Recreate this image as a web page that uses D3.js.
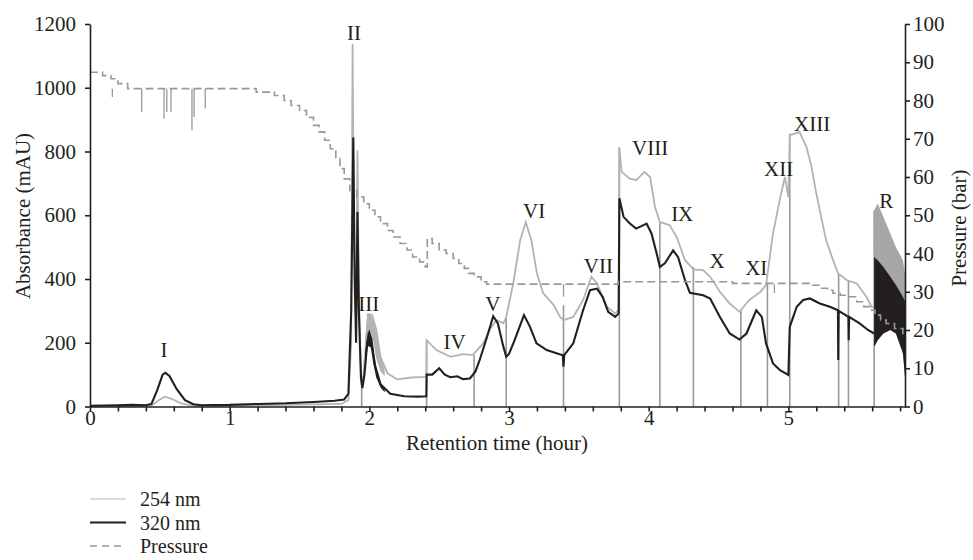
<!DOCTYPE html>
<meta charset="utf-8">
<html><head>
<title>Chromatogram</title>
<style>
body { margin: 0; background: #fff; }
text { font-family: "Liberation Serif", "DejaVu Serif", serif; fill: #231f20; }
</style>
</head><body>
<script src="https://cdnjs.cloudflare.com/ajax/libs/d3/7.8.5/d3.min.js"></script>
<script>

// [time (hour), absorbance (mAU)]
var abs254 = [[0,1],[0.3,2],[0.44,3],[0.5,22],[0.537,31],[0.58,25],[0.65,10],[0.74,3],[1.0,3],[1.4,5],[1.8,8],[1.85,20],
  [1.87,200],[1.88,1138],[1.89,500],[1.905,300],[1.915,804],[1.925,350],[1.94,100],[1.955,80],[1.975,200],[1.99,290],
  [2.02,287],[2.05,240],[2.08,156],[2.13,104],[2.2,85],[2.3,91],[2.408,93],[2.41,208],[2.48,177],[2.58,156],[2.67,164],
  [2.74,161],[2.815,198],[2.86,240],[2.91,271],[2.96,261],[2.98,281],[3.03,386],[3.08,522],[3.12,579],[3.16,522],
  [3.2,417],[3.245,355],[3.32,318],[3.365,281],[3.39,271],[3.46,281],[3.53,334],[3.59,407],[3.63,386],[3.70,313],
  [3.76,292],[3.785,302],[3.79,809],[3.806,736],[3.865,715],[3.91,710],[3.97,736],[4.01,720],[4.045,626],[4.08,579],
  [4.15,569],[4.2,532],[4.26,459],[4.32,430],[4.39,428],[4.44,407],[4.51,360],[4.58,323],[4.65,297],[4.72,334],
  [4.80,360],[4.84,381],[4.89,543],[4.94,652],[4.975,720],[5.0,657],[5.01,851],[5.08,861],[5.13,814],[5.166,751],
  [5.2,668],[5.24,584],[5.27,522],[5.32,459],[5.357,417],[5.42,396],[5.49,386],[5.56,344],[5.595,313],[5.614,313]];

var abs320 = [[0,2],[0.1,3],[0.2,4],[0.3,5],[0.4,4],[0.44,8],[0.48,50],[0.52,100],[0.54,106],[0.57,95],[0.62,55],
  [0.68,20],[0.74,7],[0.8,4],[1.0,5],[1.2,8],[1.4,10],[1.6,14],[1.75,18],[1.82,22],[1.85,40],[1.87,300],[1.885,844],
  [1.895,400],[1.905,200],[1.915,610],[1.925,300],[1.94,90],[1.95,58],[1.965,100],[1.985,200],[2.0,230],[2.015,210],
  [2.04,130],[2.08,70],[2.15,40],[2.25,32],[2.35,31],[2.408,32],[2.41,100],[2.45,100],[2.5,120],[2.54,100],[2.58,92],
  [2.63,95],[2.67,86],[2.72,88],[2.76,110],[2.79,146],[2.84,215],[2.887,283],[2.92,261],[2.96,187],[2.98,156],
  [3.0,165],[3.04,208],[3.107,287],[3.15,250],[3.197,198],[3.27,177],[3.34,167],[3.385,161],[3.39,125],[3.395,161],
  [3.46,198],[3.53,302],[3.58,365],[3.63,370],[3.67,344],[3.71,297],[3.76,281],[3.785,292],[3.79,653],[3.82,595],
  [3.865,574],[3.91,558],[3.985,574],[4.02,543],[4.057,480],[4.08,438],[4.116,449],[4.175,490],[4.21,469],[4.26,396],
  [4.295,357],[4.39,349],[4.44,339],[4.51,281],[4.58,229],[4.65,210],[4.70,229],[4.77,302],[4.81,281],[4.84,198],
  [4.89,135],[4.94,114],[5.0,99],[5.01,250],[5.06,313],[5.106,334],[5.154,339],[5.225,323],[5.297,313],[5.355,302],
  [5.357,146],[5.36,300],[5.43,281],[5.432,208],[5.435,281],[5.51,261],[5.57,240],[5.614,229]];

// peak III is noisy: envelope of both traces
var p3Time  = [1.97, 1.99, 2.01, 2.03, 2.05, 2.08, 2.11];
var p3Hi254 = [210, 292, 287, 265, 230, 160, 115];
var p3Lo254 = [150, 220, 230, 200, 150, 110, 95];
var p3Hi320 = [170, 235, 225, 175, 120, 75, 55];
var p3Lo320 = [130, 190, 185, 130, 90, 60, 45];

// noisy tail (R): envelope of the signal
var tailTime  = [5.614, 5.64, 5.68, 5.73, 5.77, 5.82, 5.835];
var tail254Hi = [615, 637, 595, 543, 500, 459, 417];
var tail320Hi = [469, 459, 438, 407, 381, 344, 330];
var tail320Lo = [187, 208, 229, 240, 229, 167, 93];

// [time, bar] column pressure, drawn as steps
var pressure = [[0,87.4],[0.09,86.5],[0.15,85.7],[0.2,84.4],[0.27,83.1],[1.19,82.2],[1.32,81.3],[1.39,80],[1.44,78.7],
  [1.5,77.4],[1.55,75.6],[1.6,73.5],[1.64,71.8],[1.68,69.6],[1.72,67.4],[1.76,64.8],[1.79,62.2],[1.82,59.5],
  [1.86,56.5],[1.91,54.8],[1.96,53],[2.0,51.3],[2.04,49.6],[2.08,47.8],[2.13,46],[2.17,44.3],[2.22,42.6],[2.27,40.9],
  [2.31,39.1],[2.36,37.8],[2.4,36.5],[2.415,43.9],[2.45,42.6],[2.5,40.9],[2.55,40],[2.6,38.7],[2.64,37.4],[2.68,36.1],
  [2.71,34.8],[2.75,33.9],[2.8,32.6],[2.84,32],[3.78,32.6],[4.6,32.2],[5.15,31.7],[5.22,30.9],[5.28,30.4],[5.32,29.6],
  [5.37,29.1],[5.42,28.7],[5.49,27.4],[5.54,26.1],[5.58,25.2],[5.62,23.9],[5.66,22.6],[5.70,21.7],[5.76,20.4],[5.82,19.1],[5.835,19.1]];

// [time, lowest bar] short drops of the pressure trace
var pressureSpikes = [[0.16,80.9],[0.37,77],[0.53,75.2],[0.55,77],[0.58,77],[0.73,72.2],[0.745,75.7],[0.825,77.9],
  [3.39,28.7],[4.9,29.6]];

// [time, mAU] fraction cuts, drawn from the baseline up
var cutTime = [1.945, 2.41, 2.75, 2.98, 3.39, 3.79, 4.08, 4.32, 4.66, 4.85, 5.01, 5.36, 5.43, 5.614];
var cutTop  = [83, 208, 161, 281, 318, 813, 579, 438, 302, 386, 856, 417, 396, 615];

var peakNames = ["I","II","III","IV","V","VI","VII","VIII","IX","X","XI","XII","XIII","R"];
var peakTime  = [0.53, 1.89, 1.995, 2.61, 2.885, 3.18, 3.64, 4.01, 4.24, 4.49, 4.77, 4.93, 5.17, 5.7];
var peakAbs   = [177, 1173, 324, 202, 324, 616, 443, 813, 606, 459, 437, 747, 888, 647];

var absTicks = [0, 200, 400, 600, 800, 1000, 1200];
var barTicks = [0, 10, 20, 30, 40, 50, 60, 70, 80, 90, 100];
var hourLabels = [0, 1, 2, 3, 4, 5];
var legendNames = ["254 nm", "320 nm", "Pressure"];

var width = 973, height = 560, fs = "21px";
var ink = "#231f20", light = "#b3b3b3", mid = "#999999";

var svg = d3.select("body").append("svg")
    .attr("width", width)
    .attr("height", height);

var x = d3.scaleLinear().domain([0, 5.835]).range([90, 905]);
var y = d3.scaleLinear().domain([0, 1200]).range([406.5, 24]);
var yP = d3.scaleLinear().domain([0, 100]).range([406.5, 24]);

var line = d3.line()
    .x(function(d) { return x(d[0]); })
    .y(function(d) { return y(d[1]); });

function band(times, lo, hi) {
  return d3.area()
      .x(function(d) { return x(d); })
      .y0(function(d, i) { return y(lo[i]); })
      .y1(function(d, i) { return y(hi[i]); })(times);
}

// fraction cuts
svg.append("g").selectAll("line")
    .data(cutTime)
    .enter().append("line")
    .attr("x1", function(d) { return x(d); })
    .attr("x2", function(d) { return x(d); })
    .attr("y1", y(0))
    .attr("y2", function(d, i) { return y(cutTop[i]); })
    .style("stroke", mid)
    .style("stroke-width", 1.6);

// 254 nm
svg.append("path")
    .datum(abs254)
    .attr("d", line)
    .style("fill", "none")
    .style("stroke", light)
    .style("stroke-width", 1.8);

svg.append("path").attr("d", band(p3Time, p3Lo254, p3Hi254)).style("fill", light);
svg.append("path").attr("d", band(tailTime, tail320Lo, tail254Hi)).style("fill", "#a6a6a6");

// 320 nm
svg.append("path")
    .datum(abs320)
    .attr("d", line)
    .style("fill", "none")
    .style("stroke", ink)
    .style("stroke-width", 2.1);

svg.append("path").attr("d", band(p3Time, p3Lo320, p3Hi320)).style("fill", ink);
svg.append("path").attr("d", band(tailTime, tail320Lo, tail320Hi)).style("fill", ink);

// pressure
svg.append("path")
    .datum(pressure)
    .attr("d", d3.line()
        .curve(d3.curveStepAfter)
        .x(function(d) { return x(d[0]); })
        .y(function(d) { return yP(d[1]); }))
    .style("fill", "none")
    .style("stroke", mid)
    .style("stroke-width", 1.6)
    .style("stroke-dasharray", "8,4");

svg.append("g").selectAll("line")
    .data(pressureSpikes)
    .enter().append("line")
    .attr("x1", function(d) { return x(d[0]); })
    .attr("x2", function(d) { return x(d[0]); })
    .attr("y1", function(d) { return d[0] < 3 ? yP(83.1) : yP(32); })
    .attr("y2", function(d) { return yP(d[1]); })
    .style("stroke", mid)
    .style("stroke-width", 1.3);

// axes
var xAxis = svg.append("g")
    .attr("transform", "translate(0," + y(0) + ")")
    .call(d3.axisBottom(x)
        .tickValues(d3.range(0, 5.81, 0.2))
        .tickSize(5).tickSizeOuter(0)
        .tickFormat(function(d) { return hourLabels.indexOf(Math.round(d * 10) / 10) >= 0 ? Math.round(d) : ""; }));

var yAxis = svg.append("g")
    .attr("transform", "translate(90,0)")
    .call(d3.axisLeft(y).tickValues(absTicks).tickSize(5).tickPadding(9).tickSizeOuter(0).tickFormat(d3.format("d")));

var pAxis = svg.append("g")
    .attr("transform", "translate(905,0)")
    .call(d3.axisRight(yP).tickValues(barTicks).tickSize(5).tickSizeOuter(0).tickFormat(d3.format("d")));

[xAxis, yAxis, pAxis].forEach(function(a) {
  a.selectAll("path, line").style("stroke", ink).style("stroke-width", 1.6);
  a.selectAll("text").style("font-size", fs).style("font-family", "Liberation Serif, serif").style("fill", ink);
});
xAxis.selectAll("text").attr("y", 4).attr("dy", "0.71em");

svg.append("text")
    .attr("transform", "translate(497,450)")
    .style("text-anchor", "middle")
    .style("font-size", fs)
    .text("Retention time (hour)");

svg.append("text")
    .attr("transform", "translate(23,216) rotate(-90)")
    .style("text-anchor", "middle")
    .attr("dy", "0.35em")
    .style("font-size", fs)
    .text("Absorbance (mAU)");

svg.append("text")
    .attr("transform", "translate(959,228) rotate(-90)")
    .style("text-anchor", "middle")
    .attr("dy", "0.35em")
    .style("font-size", fs)
    .text("Pressure (bar)");

// peak labels
svg.append("g").selectAll("text")
    .data(peakNames)
    .enter().append("text")
    .attr("x", function(d, i) { return x(peakTime[i]); })
    .attr("y", function(d, i) { return y(peakAbs[i]); })
    .attr("dy", "0.35em")
    .style("text-anchor", "middle")
    .style("font-size", fs)
    .text(function(d) { return d; });

// legend
var legend = svg.append("g").selectAll("g")
    .data(legendNames)
    .enter().append("g")
    .attr("transform", function(d, i) { return "translate(90," + (499 + i * 23.5) + ")"; });

legend.append("line")
    .attr("x1", 0).attr("x2", 36)
    .style("stroke", function(d, i) { return [light, ink, mid][i]; })
    .style("stroke-width", function(d, i) { return [1, 1.8, 1.6][i]; })
    .style("stroke-dasharray", function(d, i) { return i == 2 ? "7,5" : null; });

legend.append("text")
    .attr("x", 50)
    .attr("dy", "0.35em")
    .style("font-size", "20px")
    .text(function(d) { return d; });

</script>
</body>
</html>
